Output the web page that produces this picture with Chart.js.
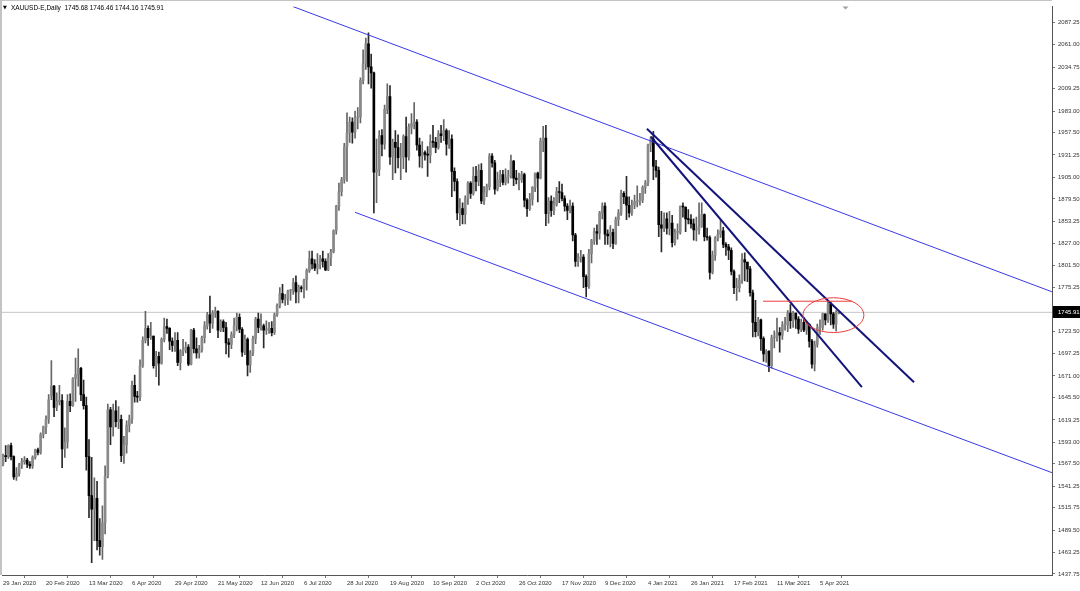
<!DOCTYPE html>
<html>
<head>
<meta charset="utf-8">
<title>XAUUSD-E,Daily</title>
<script src="https://cdn.jsdelivr.net/npm/chart.js@4.4.1/dist/chart.umd.min.js"></script>
<style>
  html, body { margin: 0; padding: 0; background: #fff; }
  #wrap { width: 1080px; height: 591px; position: relative; }
</style>
</head>
<body>
<div id="wrap"><canvas id="gold-chart"></canvas></div>
<script>
const symbolName = 'XAUUSD-E,Daily';

// one label every 16 bars, starting at bar 0
const dateLabels = ['29 Jan 2020', '20 Feb 2020', '13 Mar 2020', '6 Apr 2020', '29 Apr 2020', '21 May 2020',
  '12 Jun 2020', '6 Jul 2020', '28 Jul 2020', '19 Aug 2020', '10 Sep 2020', '2 Oct 2020', '26 Oct 2020',
  '17 Nov 2020', '9 Dec 2020', '4 Jan 2021', '26 Jan 2021', '17 Feb 2021', '11 Mar 2021', '5 Apr 2021'];

const priceTicks = [2087.25, 2061.00, 2034.75, 2009.25, 1983.00, 1957.50, 1931.25, 1905.00, 1879.50, 1853.25,
  1827.00, 1801.50, 1775.25, 1749.50, 1723.50, 1697.25, 1671.00, 1645.50, 1619.25, 1593.00, 1567.50,
  1541.25, 1515.75, 1489.50, 1463.25, 1437.75];

const opens = [
  1567,1577,1576,1589,1576,1552,1556,1566,1570,1572, 1567,1565,1575,1584,1581,1602,1611,1620,1648,1659,
  1634,1641,1642,1585,1593,1641,1636,1668,1673,1680, 1649,1636,1576,1530,1514,1527,1477,1470,1498,1553,
  1631,1611,1630,1617,1620,1577,1590,1613,1620,1660, 1647,1646,1683,1713,1727,1716,1718,1683,1694,1686,
  1714,1729,1727,1712,1707,1713,1687,1700,1702,1705, 1685,1725,1703,1698,1701,1716,1730,1743,1733,1745,
  1747,1725,1735,1728,1710,1708,1720,1730,1740,1726, 1699,1714,1684,1698,1715,1738,1728,1730,1725,1726,
  1727,1722,1743,1754,1768,1761,1762,1771,1772,1781, 1770,1775,1774,1784,1795,1809,1803,1798,1802,1809,
  1806,1796,1810,1817,1842,1871,1888,1902,1941,1957, 1970,1958,1975,1976,2019,2039,2062,2035,2028,1911,
  1914,1954,1944,1985,2000,1929,1946,1940,1928,1929, 1953,1929,1964,1968,1970,1943,1930,1934,1932,1931,
  1947,1946,1940,1956,1954,1960,1944,1950,1912,1900, 1863,1868,1861,1880,1898,1886,1906,1900,1913,1877,
  1887,1894,1930,1922,1891,1902,1908,1899,1905,1907, 1924,1904,1902,1902,1908,1878,1868,1879,1893,1910,
  1904,1948,1951,1862,1877,1866,1873,1888,1887,1880, 1871,1866,1871,1837,1806,1810,1811,1788,1776,1815,
  1830,1841,1839,1863,1871,1838,1836,1840,1827,1855, 1863,1886,1882,1872,1863,1872,1876,1877,1878,1893,
  1898,1943,1950,1918,1913,1849,1845,1856,1845,1851, 1828,1840,1840,1871,1870,1856,1855,1850,1843,1843,
  1847,1861,1835,1834,1793,1813,1833,1838,1842,1826, 1823,1819,1794,1775,1775,1784,1808,1805,1797,1769,
  1734,1723,1737,1715,1697,1700,1683,1716,1716,1722, 1719,1731,1731,1745,1736,1745,1738,1726,1734,1725,
  1732,1712,1685,1708,1728,1728,1744,1737,1756,1744, 1732,1745.68];

const highs = [
  1579,1589,1590,1592,1577,1563,1568,1574,1576,1574, 1570,1577,1585,1586,1604,1612,1624,1649,1689,1660,
  1651,1660,1649,1610,1649,1650,1669,1692,1703,1681, 1666,1646,1596,1575,1551,1547,1503,1518,1565,1638,
  1634,1638,1642,1635,1625,1600,1618,1625,1665,1672, 1653,1690,1717,1747,1730,1734,1718,1700,1699,1716,
  1739,1738,1728,1716,1722,1722,1702,1714,1711,1708, 1726,1727,1716,1707,1718,1735,1746,1765,1748,1752,
  1748,1737,1737,1734,1715,1723,1739,1745,1744,1728, 1719,1716,1701,1718,1740,1745,1744,1732,1736,1734,
  1735,1745,1756,1775,1779,1767,1772,1773,1786,1789, 1778,1777,1785,1797,1818,1818,1808,1815,1813,1818,
  1809,1815,1820,1843,1872,1898,1905,1945,1981,1976, 1975,1983,1987,2022,2055,2069,2075,2050,2029,1950,
  1960,1961,1990,2015,2013,1950,1960,1955,1945,1955, 1976,1968,1980,1993,1973,1951,1947,1936,1941,1955,
  1966,1952,1960,1966,1973,1962,1960,1955,1916,1903, 1880,1875,1883,1900,1900,1917,1918,1920,1921,1894,
  1897,1933,1933,1925,1911,1913,1913,1915,1913,1931, 1925,1913,1910,1912,1910,1880,1886,1894,1910,1911,
  1951,1965,1966,1881,1883,1881,1893,1900,1897,1883, 1874,1878,1875,1839,1815,1819,1814,1790,1820,1832,
  1845,1849,1865,1875,1875,1843,1848,1844,1858,1867, 1890,1888,1906,1882,1878,1884,1895,1886,1895,1901,
  1944,1953,1959,1925,1917,1865,1863,1863,1865,1860, 1844,1850,1871,1875,1870,1867,1861,1856,1858,1875,
  1875,1862,1845,1836,1818,1835,1843,1855,1846,1828, 1826,1822,1796,1786,1790,1815,1816,1805,1800,1772,
  1760,1740,1738,1717,1702,1701,1719,1724,1739,1728, 1735,1740,1748,1755,1747,1745,1741,1738,1740,1735,
  1732,1714,1712,1732,1737,1745,1744,1759,1758,1746, 1748,1746.46];

const lows = [
  1565,1570,1574,1572,1549,1548,1553,1562,1567,1563, 1562,1562,1573,1578,1579,1598,1603,1615,1643,1623,
  1630,1637,1563,1575,1586,1629,1635,1641,1659,1642, 1632,1560,1504,1451,1477,1466,1460,1455,1485,1551,
  1590,1600,1611,1609,1570,1568,1580,1605,1615,1640, 1640,1642,1681,1710,1707,1714,1680,1670,1660,1685,
  1711,1721,1702,1700,1700,1683,1678,1695,1698,1683, 1684,1698,1692,1692,1699,1710,1726,1722,1727,1740,
  1716,1723,1723,1697,1693,1703,1716,1724,1722,1694, 1696,1671,1675,1695,1709,1722,1725,1704,1720,1721,
  1718,1720,1741,1751,1757,1754,1755,1760,1767,1757, 1757,1770,1763,1772,1793,1797,1795,1791,1797,1799,
  1795,1795,1801,1816,1838,1866,1883,1898,1900,1946, 1945,1951,1962,1969,2015,2032,2015,2010,1863,1875,
  1907,1930,1938,1980,1920,1902,1910,1916,1902,1915, 1911,1925,1956,1962,1937,1917,1916,1925,1906,1922,
  1940,1934,1938,1946,1948,1931,1939,1882,1889,1855, 1848,1850,1850,1873,1880,1884,1889,1895,1874,1873,
  1882,1890,1917,1885,1889,1894,1896,1896,1898,1904, 1895,1897,1890,1899,1870,1859,1866,1872,1888,1876,
  1903,1935,1848,1851,1859,1861,1871,1875,1877,1865, 1855,1863,1830,1800,1800,1805,1775,1764,1774,1804,
  1826,1826,1832,1856,1826,1826,1823,1821,1826,1848, 1860,1874,1855,1858,1860,1868,1870,1872,1875,1886,
  1895,1935,1902,1905,1835,1817,1841,1838,1837,1823, 1825,1832,1838,1858,1841,1850,1845,1831,1830,1838,
  1846,1830,1831,1785,1791,1807,1830,1834,1822,1813, 1808,1790,1768,1760,1770,1780,1783,1782,1765,1717,
  1717,1718,1701,1688,1687,1676,1680,1704,1712,1699, 1714,1725,1723,1727,1728,1727,1721,1723,1723,1720,
  1705,1680,1677,1705,1720,1725,1731,1734,1731,1727, 1724,1744.16];

const closes = [
  1577,1576,1589,1576,1552,1556,1566,1570,1572,1567, 1565,1575,1584,1581,1602,1611,1620,1643,1659,1634,
  1641,1642,1585,1593,1641,1636,1668,1673,1680,1649, 1636,1576,1530,1514,1527,1477,1470,1498,1553,1631,
  1611,1630,1617,1620,1577,1590,1613,1620,1660,1647, 1646,1683,1713,1727,1716,1718,1683,1694,1686,1714,
  1729,1727,1712,1707,1713,1687,1700,1702,1705,1685, 1725,1703,1698,1701,1716,1730,1743,1733,1745,1747,
  1725,1735,1728,1710,1708,1720,1730,1740,1726,1699, 1714,1684,1698,1715,1738,1728,1730,1725,1726,1727,
  1722,1743,1754,1768,1761,1762,1771,1772,1781,1770, 1775,1774,1784,1795,1809,1803,1798,1802,1809,1806,
  1796,1810,1817,1842,1871,1888,1902,1941,1957,1970, 1958,1975,1976,2019,2039,2062,2035,2028,1911,1914,
  1954,1944,1985,2000,1929,1946,1940,1928,1929,1953, 1929,1964,1968,1970,1943,1930,1934,1932,1931,1947,
  1946,1940,1956,1954,1960,1944,1950,1912,1900,1863, 1868,1861,1880,1898,1886,1906,1900,1913,1877,1887,
  1894,1930,1922,1891,1902,1908,1899,1905,1907,1924, 1904,1902,1902,1908,1878,1868,1879,1893,1910,1904,
  1948,1951,1862,1877,1866,1873,1888,1887,1880,1871, 1866,1871,1837,1806,1810,1811,1788,1776,1815,1830,
  1841,1839,1863,1871,1838,1836,1840,1827,1855,1863, 1886,1882,1872,1863,1872,1876,1877,1878,1893,1898,
  1943,1950,1918,1913,1849,1845,1856,1845,1851,1828, 1840,1840,1871,1870,1856,1855,1850,1843,1843,1847,
  1861,1835,1834,1793,1813,1833,1838,1842,1826,1823, 1819,1794,1775,1775,1784,1808,1805,1797,1769,1734,
  1723,1737,1715,1697,1700,1683,1716,1716,1722,1719, 1731,1731,1745,1736,1745,1738,1726,1734,1725,1732,
  1712,1685,1708,1728,1728,1744,1737,1756,1744,1732, 1746,1745.91];

// drawn objects, in bar index / price
const channelTop = [{ x: 107.9, y: 2106.0 }, { x: 390.3, y: 1770.1 }];
const channelBottom = [{ x: 131.0, y: 1863.7 }, { x: 390.3, y: 1557.1 }];
const trendA = [{ x: 239.6, y: 1962.0 }, { x: 339.0, y: 1663.6 }];
const trendB = [{ x: 241.1, y: 1952.7 }, { x: 319.6, y: 1657.7 }];
const resistance = [{ x: 282.8, y: 1759.0 }, { x: 315.9, y: 1759.0 }];
const circled = { x: 309.0, y: 1742.6, rx: 11.35, ry: 20.5 };

const xMin = -0.37, xMax = 390.33;
const yMin = 1436.56, yMax = 2105.97;

const n = closes.length;
const lastClose = closes[n - 1];
const bodyColors = closes.map((c, i) => c >= opens[i] ? '#8a8a8a' : '#000000');
const wickColors = closes.map((c, i) => c >= opens[i] ? '#666666' : '#2a2a2a');

function lineSet(points, color, width, order) {
  return {
    type: 'line',
    data: points,
    borderColor: color,
    borderWidth: width,
    pointRadius: 0,
    tension: 0,
    fill: false,
    order: order
  };
}

const overlay = {
  id: 'overlay',
  beforeDraw(chart) {
    const ctx = chart.ctx;
    ctx.save();
    ctx.fillStyle = '#ffffff';
    ctx.fillRect(0, 0, chart.width, chart.height);
    ctx.fillStyle = '#c4c4c4';
    ctx.fillRect(0, 0, 2, chart.chartArea.bottom);
    ctx.fillRect(0, 0, chart.chartArea.right, 1);
    ctx.restore();
  },
  afterDatasetsDraw(chart) {
    const { ctx, scales: { x, y } } = chart;
    const cx = x.getPixelForValue(circled.x);
    const cy = y.getPixelForValue(circled.y);
    const rx = Math.abs(x.getPixelForValue(circled.x + circled.rx) - cx);
    const ry = Math.abs(y.getPixelForValue(circled.y + circled.ry) - cy);
    ctx.save();
    ctx.strokeStyle = '#e84040';
    ctx.lineWidth = 1;
    ctx.beginPath();
    ctx.ellipse(cx, cy, rx, ry, 0, 0, Math.PI * 2);
    ctx.stroke();
    ctx.restore();
  },
  afterDraw(chart) {
    const { ctx, chartArea, scales: { x, y } } = chart;
    ctx.save();
    // bid price box on the axis
    const py = Math.round(y.getPixelForValue(lastClose));
    ctx.fillStyle = '#000';
    ctx.fillRect(chartArea.right + 1, py - 6, chart.width - chartArea.right - 1, 12);
    ctx.fillStyle = '#fff';
    ctx.font = '6px "Liberation Sans"';
    ctx.textBaseline = 'middle';
    ctx.fillText(lastClose.toFixed(2), chartArea.right + 6, py + 0.5);
    // header line
    ctx.fillStyle = '#000';
    ctx.font = '5px "DejaVu Sans"';
    ctx.fillText('\u25BC', 3, 8);
    ctx.font = '6.5px "Liberation Sans"';
    const head = symbolName + '  ' + [opens[n - 1], highs[n - 1], lows[n - 1], closes[n - 1]].map(v => v.toFixed(2)).join(' ');
    ctx.fillText(head, 11, 8.5);
    // chart shift marker
    const sx = x.getPixelForValue(n + 1.5);
    ctx.fillStyle = '#a0a0a0';
    ctx.beginPath();
    ctx.moveTo(sx - 3, chartArea.top);
    ctx.lineTo(sx + 3, chartArea.top);
    ctx.lineTo(sx, chartArea.top + 3);
    ctx.closePath();
    ctx.fill();
    ctx.restore();
  }
};

Chart.defaults.font.family = '"Liberation Sans", Arial, sans-serif';

new Chart(document.getElementById('gold-chart'), {
  type: 'bar',
  data: {
    datasets: [
      lineSet([{ x: xMin, y: lastClose }, { x: xMax, y: lastClose }], '#c6c6c6', 1, 10),
      {
        label: 'wick',
        data: highs.map((h, i) => ({ x: i, y: [lows[i], h] })),
        backgroundColor: wickColors,
        barThickness: 1,
        grouped: false,
        order: 6
      },
      {
        label: 'body',
        data: opens.map((o, i) => ({ x: i, y: [o, closes[i]] })),
        backgroundColor: bodyColors,
        barThickness: 2,
        minBarLength: 1,
        grouped: false,
        order: 5
      },
      lineSet(channelTop, '#3a3ae6', 1, 4),
      lineSet(channelBottom, '#3a3ae6', 1, 4),
      lineSet(trendA, '#14147a', 2, 3),
      lineSet(trendB, '#14147a', 2, 3),
      lineSet(resistance, '#ee3a3a', 1, 2)
    ]
  },
  options: {
    responsive: true,
    maintainAspectRatio: false,
    animation: false,
    layout: { padding: { left: 2, top: 3, right: 0, bottom: 0 } },
    plugins: {
      legend: { display: false },
      tooltip: { enabled: false }
    },
    scales: {
      x: {
        type: 'linear',
        min: xMin,
        max: xMax,
        bounds: 'data',
        offset: false,
        afterBuildTicks: scale => {
          scale.ticks = dateLabels.map((d, k) => ({ value: k * 16 }));
        },
        afterFit: scale => { scale.height = 16; },
        ticks: {
          callback: v => dateLabels[Math.round(v / 16)],
          autoSkip: false,
          maxRotation: 0,
          align: 'start',
          padding: 2,
          color: '#333',
          font: { size: 6 }
        },
        grid: { drawOnChartArea: false, tickLength: 3, color: '#777' },
        border: { color: '#555' }
      },
      y: {
        type: 'linear',
        position: 'right',
        min: yMin,
        max: yMax,
        bounds: 'data',
        afterBuildTicks: scale => {
          scale.ticks = priceTicks.map(v => ({ value: v }));
        },
        afterFit: scale => { scale.width = 28; },
        ticks: {
          callback: v => v.toFixed(2),
          autoSkip: false,
          padding: 3,
          color: '#333',
          font: { size: 6 }
        },
        grid: { drawOnChartArea: false, tickLength: 3, color: '#777' },
        border: { color: '#555' }
      }
    }
  },
  plugins: [overlay]
});
</script>
</body>
</html>
